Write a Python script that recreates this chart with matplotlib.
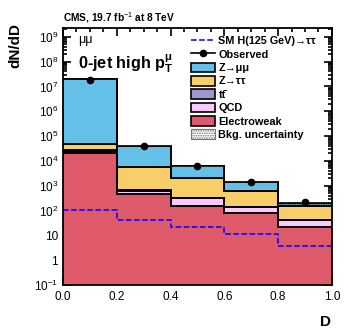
import matplotlib
matplotlib.use("Agg")
import matplotlib.pyplot as plt
import numpy as np
from matplotlib.lines import Line2D
from matplotlib.patches import Patch
from matplotlib.ticker import MultipleLocator, LogLocator, NullFormatter

plt.rcParams['font.family'] = ['Liberation Sans', 'DejaVu Sans']
plt.rcParams['mathtext.fontset'] = 'custom'
plt.rcParams['mathtext.rm'] = 'Liberation Sans'
plt.rcParams['mathtext.bf'] = 'Liberation Sans:bold'
plt.rcParams['mathtext.it'] = 'Liberation Sans:italic'
plt.rcParams['hatch.color'] = '#444444'
plt.rcParams['hatch.linewidth'] = 0.8

# binning in D
edges = [0.0, 0.2, 0.4, 0.6, 0.8, 1.0]
centers = [0.1, 0.3, 0.5, 0.7, 0.9]

# background components (bottom of the stack first)
ewk = [2.0e4, 450, 150, 77, 22]
qcd = [3.0e3, 180, 160, 65, 19]
ttbar = [4.5e3, 20, 8, 4, 2]
ztt = [2.05e4, 5150, 1800, 484, 117]
zmm = [1.9e7, 3.5e4, 4.0e3, 750, 35]
bkg_unc = [0.06, 0.06, 0.06, 0.08, 0.15]

observed = [1.9e7, 4.1e4, 6.3e3, 1.4e3, 224]
higgs = [107, 42, 22, 11, 3.7]

components = [
    (ewk, '#de5a6a', 'Electroweak'),
    (qcd, '#facaff', 'QCD'),
    (ttbar, '#9b98cc', 'tt\u0304'),
    (ztt, '#f8ce68', 'Z→ττ'),
    (zmm, '#64c0e8', 'Z→μμ'),
]

fig = plt.figure(figsize=(3.49, 3.35), dpi=100)
ax = fig.add_axes([0.1805, 0.149, 0.7705, 0.768])
ax.set_yscale('log')
ax.set_xlim(0, 1)
ax.set_ylim(0.1, 2.3e9)

base = np.full(len(centers), 0.1)
for vals, col, lab in components:
    top = base + np.array(vals)
    ax.stairs(top, edges, baseline=base, fill=True, color=col, zorder=2)
    base = top
# black outlines on top of each cumulative level
cum = np.full(len(centers), 0.0)
for vals, col, lab in components:
    cum = cum + np.array(vals)
    ax.stairs(cum, edges, baseline=None, color='black', lw=1.4, zorder=3)

total = cum
unc = np.array(bkg_unc) * total
ax.stairs(total + unc, edges, baseline=total - unc, fill=True, facecolor='none',
          edgecolor='#444444', hatch='.......', lw=0, zorder=4)

ax.stairs(higgs, edges, baseline=None, color='blue', ls='--', lw=1.1, zorder=5)
ax.plot(centers, observed, 'o', color='black', ms=4.5, zorder=6)

# ticks, ROOT style
ax.xaxis.set_major_locator(MultipleLocator(0.2))
ax.xaxis.set_minor_locator(MultipleLocator(0.05))
ax.yaxis.set_major_locator(LogLocator(base=10, numticks=20))
ax.yaxis.set_minor_locator(LogLocator(base=10, subs=np.arange(2, 10), numticks=20))
ax.yaxis.set_minor_formatter(NullFormatter())
ax.tick_params(which='both', direction='in', top=True, right=True, width=1.2, labelsize=8.5)
ax.tick_params(which='major', length=6)
ax.tick_params(which='minor', length=3)
ax.tick_params(axis='x', pad=4)

ylabs = []
for e in range(-1, 10):
    if e == 0:
        ylabs.append('1')
    elif e == 1:
        ylabs.append('10')
    else:
        ylabs.append('$10^{%d}$' % e)
ax.set_yticks([10.0 ** e for e in range(-1, 10)])
ax.set_yticklabels(ylabs)
ax.set_xticks([0.0, 0.2, 0.4, 0.6, 0.8, 1.0])
ax.set_xticklabels(['0.0', '0.2', '0.4', '0.6', '0.8', '1.0'])
ax.set_ylim(0.1, 2.3e9)
for sp in ax.spines.values():
    sp.set_linewidth(1.3)
    sp.set_zorder(10)

# text
fig.text(0.1805, 0.925, 'CMS, 19.7 fb$^{-1}$ at 8 TeV', fontsize=7.3,
         fontweight='bold', ha='left', va='bottom',
         family=['Liberation Sans Narrow', 'Liberation Sans'])
fig.text(0.045, 0.865, 'dN/dD', rotation=90, fontsize=11, fontweight='bold',
         ha='center', va='center')
fig.text(0.933, 0.038, 'D', fontsize=11, fontweight='bold', ha='center', va='center')
ax.text(0.055, 0.952, 'μμ', transform=ax.transAxes, fontsize=9, ha='left', va='center')
ax.text(0.055, 0.86, r'0-jet high p$_{\mathbf{T}}^{\mathbf{\mu}}$', transform=ax.transAxes,
        fontsize=11.7, fontweight='bold', ha='left', va='center')

handles = [
    Line2D([], [], color='blue', ls='--', lw=1.1),
    Line2D([], [], color='black', marker='o', ms=4.5, lw=1.2),
]
labels = ['SM H(125 GeV)→ττ', 'Observed']
for vals, col, lab in components[::-1]:
    handles.append(Patch(facecolor=col, edgecolor='black', lw=1.2))
    labels.append(lab)
handles.append(Patch(facecolor='white', edgecolor='#777777', hatch='.......', lw=0.8))
labels.append('Bkg. uncertainty')

leg = ax.legend(handles, labels, loc='upper left', bbox_to_anchor=(0.455, 0.99),
                frameon=False, borderpad=0.0, handlelength=2.2, handleheight=1.0,
                handletextpad=0.35, labelspacing=0.26,
                prop={'size': 7.8, 'weight': 'bold'})
leg.set_zorder(11)

fig.savefig('out.png', dpi=100)
